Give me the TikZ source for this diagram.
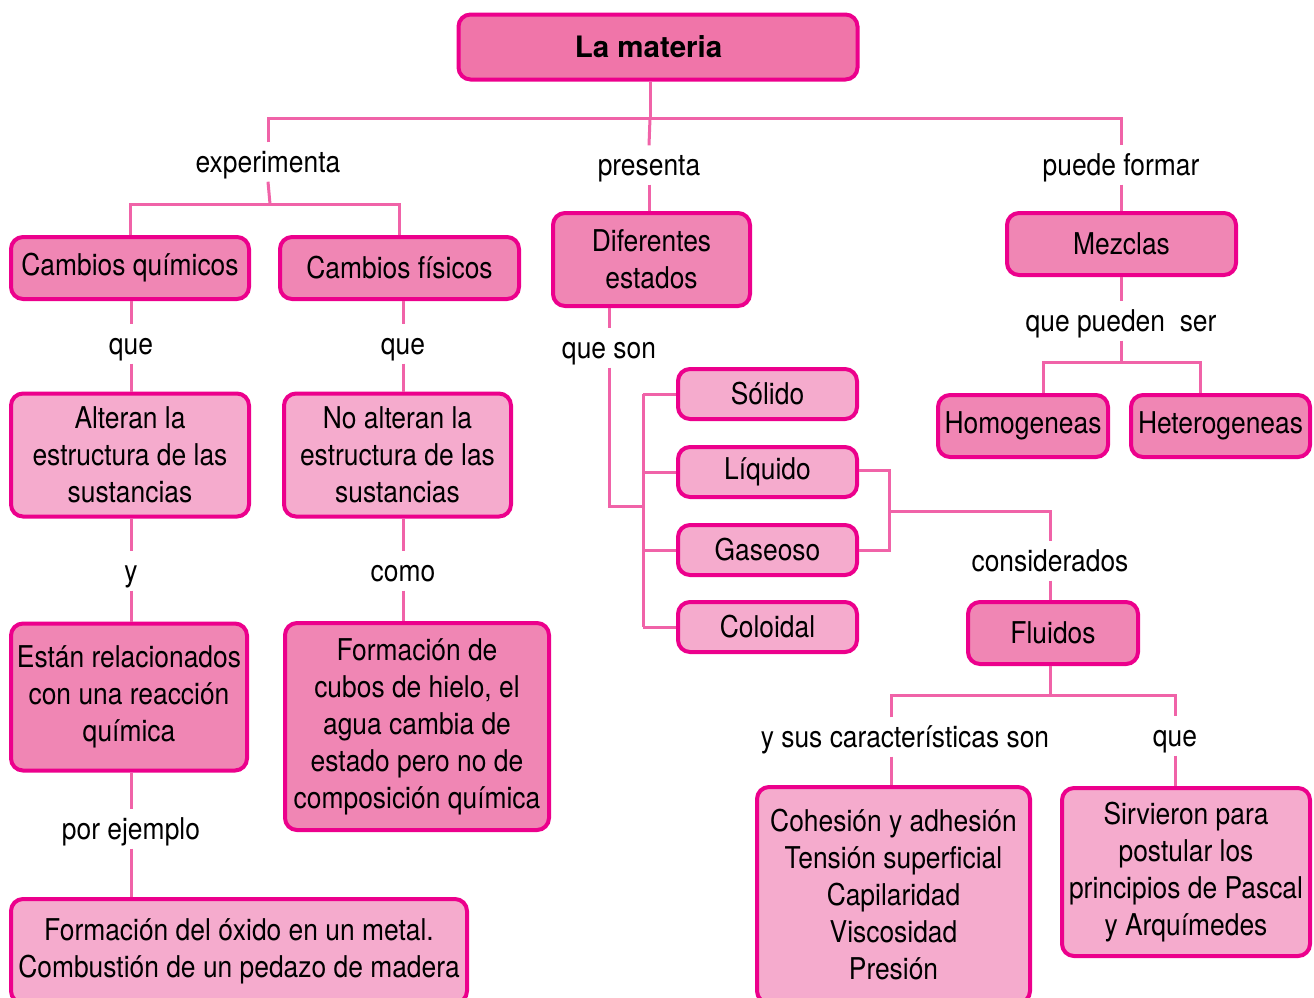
\documentclass[tikz,border=0pt]{standalone}
\usepackage{fontspec}
\setmainfont{TeX Gyre Heros}[FakeStretch=0.88]
\newfontfamily\titlefont{TeX Gyre Heros}
\usepackage{tikz}
\usetikzlibrary{calc}

\definecolor{pinkborder}{HTML}{EC008C}
\definecolor{pinktitle}{HTML}{F075A9}
\definecolor{pinkdark}{HTML}{F086B4}
\definecolor{pinklight}{HTML}{F5ABCD}
\definecolor{pinkline}{HTML}{F063A8}

\tikzstyle{concept} = [draw=pinkborder, line width=4pt, rounded corners=12pt, align=center, inner sep=0pt, font=\fontsize{30}{37}\selectfont]
\tikzstyle{titlebox} = [concept, fill=pinktitle, font=\titlefont\bfseries\fontsize{29.5}{34}\selectfont]
\tikzstyle{dark} = [concept, fill=pinkdark]
\tikzstyle{light} = [concept, fill=pinklight]
\tikzstyle{word} = [inner sep=6pt, text height=24pt, text depth=3pt, font=\fontsize{30}{37}\selectfont]
\tikzstyle{link} = [draw=pinkline, line width=3pt]

\begin{document}
\begin{tikzpicture}[x=1pt, y=-1pt]
	\useasboundingbox (0,0) rectangle (1314,997);

	% Main concept
	\node[titlebox, minimum width=399pt, minimum height=65pt] (materia) at (658,47) {La materia\kern19pt};
	\coordinate (jmateria) at (650,118);

	% Linking words
	\node[word] (experimenta) at (268,162) {experimenta};
	\node[word] (presenta) at (649,165) {presenta};
	\node[word] (puedeformar) at (1121,165) {puede formar};

	% Changes
	\coordinate (jcambios) at (270,204);
	\node[dark, minimum width=238pt, minimum height=62pt] (cquimicos) at (130,268) {Cambios químicos};
	\node[dark, minimum width=239pt, minimum height=62pt] (cfisicos) at (399.5,268) {Cambios físicos};
	\node[word] (que1) at (131,344) {que};
	\node[word] (que2) at (403,344) {que};
	\node[light, minimum width=238pt, minimum height=123pt] (alteran) at (130,455) {Alteran la\\estructura de las\\sustancias};
	\node[light, minimum width=227pt, minimum height=123pt] (noalteran) at (397.5,455) {No alteran la\\estructura de las\\sustancias};
	\node[word] (y1) at (131,571) {y};
	\node[word] (como) at (403,571) {como};
	\node[dark, minimum width=236pt, minimum height=147pt] (relacion) at (129,697) {Están relacionados\\con una reacción\\química};
	\node[dark, minimum width=264pt, minimum height=207pt] (hielo) at (417,726.5) {Formación de\\cubos de hielo, el\\agua cambia de\\estado pero no de\\composición química};
	\node[word] (ejemplo) at (131,829) {por ejemplo};
	\node[light, minimum width=456pt, minimum height=104pt] (oxido) at (239,951) {Formación del óxido en un metal.\\Combustión de un pedazo de madera};

	% States
	\node[dark, minimum width=197pt, minimum height=93pt] (estados) at (651.5,259.5) {Diferentes\\estados};
	\node[word] (queson) at (609,348) {que son};
	\coordinate (jestados) at (643,506);
	\node[light, minimum width=179pt, minimum height=50pt] (solido) at (767.5,394) {Sólido};
	\node[light, minimum width=179pt, minimum height=50pt] (liquido) at (767.5,472) {Líquido};
	\node[light, minimum width=179pt, minimum height=50pt] (gaseoso) at (767.5,550) {Gaseoso};
	\node[light, minimum width=179pt, minimum height=50pt] (coloidal) at (767.5,627) {Coloidal};

	% Fluids
	\coordinate (jfluidos) at (889,511);
	\node[word] (considerados) at (1050,561) {considerados};
	\node[dark, minimum width=170pt, minimum height=62pt] (fluidos) at (1053,633) {Fluidos};
	\coordinate (jprop) at (1050,695);
	\node[word] (sus) at (905,737) {y sus características son};
	\node[word] (que4) at (1175,736) {que};
	\node[light, minimum width=273pt, minimum height=216pt] (cohesion) at (893.5,895) {Cohesión y adhesión\\Tensión superficial\\Capilaridad\\Viscosidad\\Presión};
	\node[light, minimum width=248pt, minimum height=168pt] (pascal) at (1186,872) {Sirvieron para\\postular los\\principios de Pascal\\y Arquímedes};

	% Mixtures
	\node[dark, minimum width=229pt, minimum height=62pt] (mezclas) at (1121.5,244) {Mezclas};
	\node[word] (queser) at (1121,321) {que pueden\ \ ser};
	\coordinate (jmezclas) at (1121,362);
	\node[dark, minimum width=170pt, minimum height=62pt] (homogeneas) at (1023,426) {Homogeneas};
	\node[dark, minimum width=179pt, minimum height=62pt] (heterogeneas) at (1220.5,426) {Heterogeneas};

	% Connectors
	\draw[link] (materia.south -| jmateria) -- (jmateria);
	\draw[link] (experimenta.north) |- (jmateria) -| (puedeformar.north);
	\draw[link] (jmateria) -- (presenta.north);
	\draw[link] (experimenta.south) -- (jcambios);
	\draw[link] (cquimicos.north) |- (jcambios) -| (cfisicos.north);
	\draw[link] (cquimicos.south -| que1) -- (que1.north);
	\draw[link] (que1.south) -- (alteran.north -| que1);
	\draw[link] (cfisicos.south -| que2) -- (que2.north);
	\draw[link] (que2.south) -- (noalteran.north -| que2);
	\draw[link] (alteran.south -| y1) -- (y1.north);
	\draw[link] (y1.south) -- (relacion.north -| y1);
	\draw[link] (noalteran.south -| como) -- (como.north);
	\draw[link] (como.south) -- (hielo.north -| como);
	\draw[link] (relacion.south -| ejemplo) -- (ejemplo.north);
	\draw[link] (ejemplo.south) -- (oxido.north -| ejemplo);

	\draw[link] (presenta.south) -- (estados.north -| presenta);
	\draw[link] (estados.south -| queson) -- (queson.north);
	\draw[link] (queson.south) |- (jestados);
	\draw[link] (solido.west -| jestados) -- (coloidal.west -| jestados);
	\foreach \s in {solido,liquido,gaseoso,coloidal}
		\draw[link] (\s.west -| jestados) -- (\s.west);

	\draw[link] ($(liquido.east)+(0,-2)$) -| (jfluidos) |- (gaseoso.east);
	\draw[link] (jfluidos) -| (considerados.north);
	\draw[link] (considerados.south) -- (fluidos.north -| considerados);
	\draw[link] (fluidos.south -| jprop) -- (jprop);
	\draw[link] ($(sus.north)+(-14,0)$) |- (jprop) -| (que4.north);
	\draw[link] ($(sus.south)+(-14,0)$) -- (cohesion.north -| {$(sus.south)+(-14,0)$});
	\draw[link] (que4.south) -- (pascal.north -| que4);

	\draw[link] (puedeformar.south) -- (mezclas.north -| puedeformar);
	\draw[link] (mezclas.south -| queser) -- (queser.north);
	\draw[link] (queser.south) -- (jmezclas);
	\draw[link] ($(homogeneas.north)+(20,0)$) |- (jmezclas) -| ($(heterogeneas.north)+(-20,0)$);

\end{tikzpicture}
\end{document}
